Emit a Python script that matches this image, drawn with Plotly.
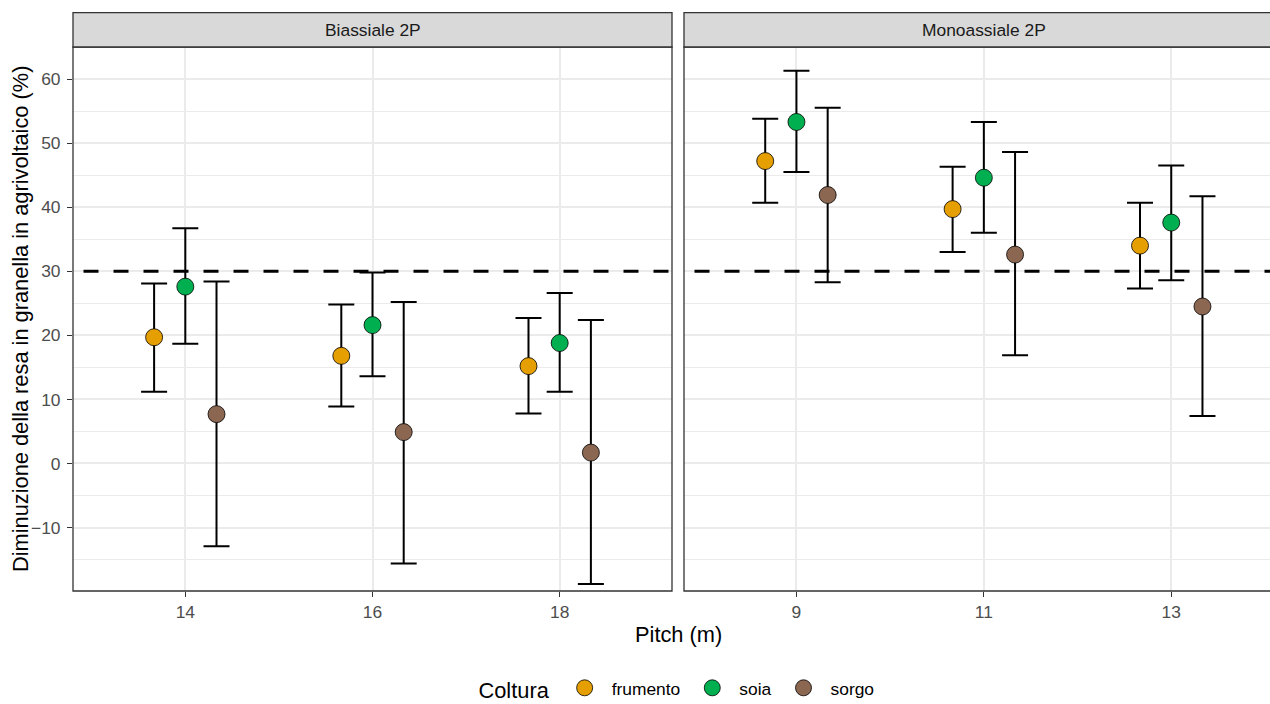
import plotly.graph_objects as go

# ---------------- data ----------------
crops = ["frumento", "soia", "sorgo"]
crop_colors = ["#E69F00", "#00B050", "#8B6650"]

facets = ["Biassiale 2P", "Monoassiale 2P"]
pitch_bi = ["14", "16", "18"]
pitch_mono = ["9", "11", "13"]

# Biassiale 2P
bi_frumento_mean = [19.7, 16.8, 15.2]
bi_frumento_low = [11.2, 8.9, 7.8]
bi_frumento_high = [28.1, 24.8, 22.7]

bi_soia_mean = [27.6, 21.6, 18.8]
bi_soia_low = [18.7, 13.6, 11.2]
bi_soia_high = [36.7, 29.8, 26.6]

bi_sorgo_mean = [7.7, 4.9, 1.7]
bi_sorgo_low = [-12.9, -15.6, -18.8]
bi_sorgo_high = [28.4, 25.2, 22.4]

# Monoassiale 2P
mono_frumento_mean = [47.2, 39.7, 34.0]
mono_frumento_low = [40.7, 33.0, 27.3]
mono_frumento_high = [53.8, 46.3, 40.7]

mono_soia_mean = [53.3, 44.6, 37.6]
mono_soia_low = [45.5, 36.0, 28.6]
mono_soia_high = [61.3, 53.3, 46.5]

mono_sorgo_mean = [41.9, 32.6, 24.5]
mono_sorgo_low = [28.3, 16.9, 7.4]
mono_sorgo_high = [55.5, 48.6, 41.7]

threshold = 30
y_ticks = [-10, 0, 10, 20, 30, 40, 50, 60]

# ---------------- figure ----------------
W, H = 1270, 716          # slightly taller than the window; bottom part is legend padding
FONT = "Liberation Sans, Arial, sans-serif"
SMALL, BIG = 17.4, 21.8

fig = go.Figure()

panel_data = [
    ("x", "y", pitch_bi, [
        (bi_frumento_mean, bi_frumento_low, bi_frumento_high),
        (bi_soia_mean, bi_soia_low, bi_soia_high),
        (bi_sorgo_mean, bi_sorgo_low, bi_sorgo_high),
    ]),
    ("x2", "y2", pitch_mono, [
        (mono_frumento_mean, mono_frumento_low, mono_frumento_high),
        (mono_soia_mean, mono_soia_low, mono_soia_high),
        (mono_sorgo_mean, mono_sorgo_low, mono_sorgo_high),
    ]),
]

for p, (xa, ya, cats, series) in enumerate(panel_data):
    for i, (m, lo, hi) in enumerate(series):
        fig.add_trace(go.Scatter(
            x=cats, y=m, xaxis=xa, yaxis=ya,
            mode="markers", name=crops[i], legendgroup=crops[i],
            showlegend=(p == 0), offsetgroup=crops[i],
            marker=dict(size=17, color=crop_colors[i],
                        line=dict(color="black", width=0.8)),
            error_y=dict(type="data", symmetric=False,
                         array=[h - v for h, v in zip(hi, m)],
                         arrayminus=[v - l for v, l in zip(m, lo)],
                         color="black", thickness=2, width=13),
        ))

# panel geometry (pixels in the reference screenshot)
L1, R1 = 73, 672
L2, R2 = 684, 1283
TOP, BOT = 47, 591
STRIP_TOP = 12.7
px_per_cat = 187.4
VIEW_W = 1270


def px(xv):
    return xv / W


def py(yv):
    return (H - yv) / H


grid = "#EBEBEB"
axis_common = dict(
    type="category", showgrid=True, gridcolor=grid, gridwidth=1.5,
    ticks="outside", ticklen=5, tickwidth=1.3, tickcolor="#333333",
    tickfont=dict(size=SMALL, color="#4D4D4D", family=FONT),
    showline=False, zeroline=False, fixedrange=True,
)
yaxis_common = dict(
    domain=[py(BOT), py(TOP)], range=[-19.9, 65.0],
    tickvals=y_ticks, showgrid=True, gridcolor=grid, gridwidth=1.5,
    minor=dict(dtick=5, tick0=0, showgrid=True, gridcolor=grid, gridwidth=0.8),
    zeroline=False, showline=False, fixedrange=True,
)

fig.update_layout(
    width=W, height=H,
    margin=dict(l=0, r=0, t=0, b=0),
    paper_bgcolor="white", plot_bgcolor="white",
    font=dict(family=FONT),
    scattermode="group", scattergap=0.5,
    xaxis=dict(axis_common, domain=[px(L1), px(R1)], anchor="y",
               categoryorder="array", categoryarray=pitch_bi,
               range=[-0.6, 2.6]),
    xaxis2=dict(axis_common, domain=[px(L2), 1.0], anchor="y2",
                categoryorder="array", categoryarray=pitch_mono,
                range=[-0.6, -0.6 + (VIEW_W - L2) / px_per_cat]),
    yaxis=dict(yaxis_common, anchor="x",
               ticks="outside", ticklen=5, tickwidth=1.3, tickcolor="#333333",
               tickfont=dict(size=SMALL, color="#4D4D4D", family=FONT),
               ticklabelstandoff=3),
    yaxis2=dict(yaxis_common, anchor="x2", matches="y",
                showticklabels=False, ticks=""),
    legend=dict(
        orientation="h", x=px(678), xanchor="center", y=7 / H,
        yanchor="bottom", itemwidth=44,
        title=dict(text="Coltura", side="left",
                   font=dict(size=BIG, color="black", family=FONT)),
        font=dict(size=SMALL, color="black", family=FONT),
        bgcolor="rgba(0,0,0,0)",
    ),
)

shapes = []
# threshold dashed lines (phase shifted 15/15 dash pattern)
for xr, yr in (("x domain", "y"), ("x2 domain", "y2")):
    shapes.append(dict(type="line", xref=xr, yref=yr, x0=0, x1=1,
                       y0=threshold, y1=threshold, layer="above",
                       line=dict(color="black", width=3,
                                 dash="0px,10.5px,15px,15px,15px,4.5px")))
# panel borders and strips
for L, R in ((L1, R1), (L2, R2)):
    shapes.append(dict(type="rect", xref="paper", yref="paper",
                       x0=px(L), x1=px(R), y0=py(BOT), y1=py(TOP),
                       line=dict(color="#333333", width=1.3),
                       fillcolor="rgba(0,0,0,0)", layer="above"))
    shapes.append(dict(type="rect", xref="paper", yref="paper",
                       x0=px(L), x1=px(R), y0=py(TOP), y1=py(STRIP_TOP),
                       line=dict(color="#333333", width=1.3),
                       fillcolor="#D9D9D9", layer="above"))
fig.update_layout(shapes=shapes)

annotations = []
for L, R, txt in ((L1, R1, facets[0]), (L2, R2, facets[1])):
    annotations.append(dict(
        text=txt, xref="paper", yref="paper", x=px((L + R) / 2),
        y=py((TOP + STRIP_TOP) / 2), xanchor="center", yanchor="middle",
        showarrow=False, font=dict(size=SMALL, color="#1A1A1A", family=FONT)))
annotations.append(dict(
    text="Pitch (m)", xref="paper", yref="paper", x=px((L1 + R2) / 2),
    y=py(634), xanchor="center", yanchor="middle", showarrow=False,
    font=dict(size=BIG, color="black", family=FONT)))
annotations.append(dict(
    text="Diminuzione della resa in granella in agrivoltaico (%)",
    xref="paper", yref="paper", x=px(20), y=py(319), xanchor="center",
    yanchor="middle", textangle=-90, showarrow=False,
    font=dict(size=BIG, color="black", family=FONT)))
fig.update_layout(annotations=annotations)

fig.write_html(
    "out.html",
    config={"displayModeBar": False},
    post_script="document.body.style.margin='0px';"
                "document.body.style.overflow='hidden';"
                "document.documentElement.style.overflow='hidden';",
)
